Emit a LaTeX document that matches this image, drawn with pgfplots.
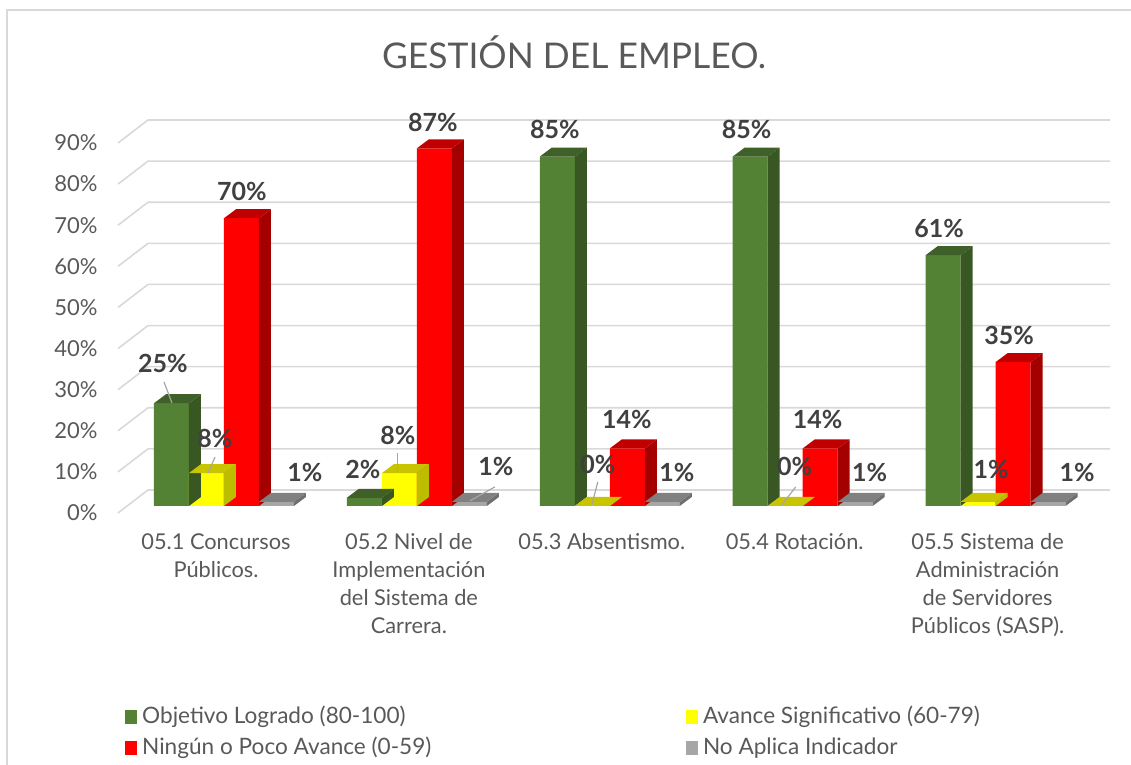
\documentclass[border=0pt]{standalone}
\usepackage{fontspec}
\setmainfont{Lato}
\usepackage{pgfplots}
\pgfplotsset{compat=1.18}
\definecolor{gF}{HTML}{548235}
\definecolor{gS}{HTML}{385723}
\definecolor{gT}{HTML}{3F6129}
\definecolor{yF}{HTML}{FFFF00}
\definecolor{yS}{HTML}{BDBD00}
\definecolor{yT}{HTML}{C8C400}
\definecolor{rF}{HTML}{FF0000}
\definecolor{rS}{HTML}{A50000}
\definecolor{rT}{HTML}{C00000}
\definecolor{aF}{HTML}{A6A6A6}
\definecolor{aS}{HTML}{6F6F6F}
\definecolor{aT}{HTML}{808080}
\definecolor{txt}{HTML}{595959}
\definecolor{lab}{HTML}{404040}
\definecolor{gridc}{HTML}{D9D9D9}
\definecolor{leadc}{HTML}{A6A6A6}

% x = category, v = value (%), dx dy = label offset (pt), la lb lc ld = leader line (pt)
\def\dgreen{x v dx dy la lb lc ld\\
0 25 -4.25 20 0.25 0.15 -3.75 10.65\\
1 2 -0.75 14 0 0 0 0\\
2 85 -1.25 13.5 0 0 0 0\\
3 85 -1.75 13.5 0 0 0 0\\
4 61 -2 13.5 0 0 0 0\\}
\def\dyellow{x v dx dy la lb lc ld\\
0 8 4.25 17.5 0.75 0 4.25 8\\
1 8 -0.75 19 -0.75 0.5 -0.75 10\\
2 0 2.75 21 -0.25 0.5 2.75 12\\
3 0 4.75 20 -1.75 0.5 5.25 9.5\\
4 1 6.5 16 0 0 0 0\\}
\def\dred{x v dx dy la lb lc ld\\
0 70 0.25 13.5 0 0 0 0\\
1 87 -0.75 13 0 0 0 0\\
2 14 -0.25 14.25 0 0 0 0\\
3 14 -1.25 14.25 0 0 0 0\\
4 35 -2 13.5 0 0 0 0\\}
\def\dgray{x v dx dy la lb lc ld\\
0 1 14.25 14.5 0 0 0 0\\
1 1 13.25 17.5 0.25 0.5 12.75 7.5\\
2 1 7.25 14.5 0 0 0 0\\
3 1 7.25 14.5 0 0 0 0\\
4 1 14.5 14.5 0 0 0 0\\}

\newcommand{\barseries}[5]{%
  \addplot[forget plot, ybar, bar width=17.5pt, bar shift=#2pt, fill=#3, draw=none] table[x=x,y=v,row sep=\\]{#1};
  \addplot[forget plot, only marks, mark=*, mark size=0pt, mark options={draw=none, fill=none}, scatter,
    visualization depends on={value \thisrow{v} \as \myval},
    visualization depends on={value \thisrow{la} \as \mla},
    visualization depends on={value \thisrow{lb} \as \mlb},
    visualization depends on={value \thisrow{lc} \as \mlc},
    visualization depends on={value \thisrow{ld} \as \mld},
    scatter/@pre marker code/.code={%
      \pgfmathsetmacro\myhh{\myval*185/90}%
      \path[fill=#4, draw=none] ({#2pt+8.75pt},0pt) -- ++(6pt,4.5pt) -- ++(0pt,-\myhh pt) -- ++(-6pt,-4.5pt) -- cycle;
      \path[fill=#5, draw=none] ({#2pt-8.75pt},0pt) -- ++(6pt,4.5pt) -- ++(17.5pt,0pt) -- ++(-6pt,-4.5pt) -- cycle;
      \ifdim\mld pt=0pt\relax\else
        \path[draw=leadc, line width=0.6pt] ({#2pt+\mla pt},\mlb pt) -- ({#2pt+\mlc pt},\mld pt);
      \fi
    },
    scatter/@post marker code/.code={}
  ] table[x=x,y=v,row sep=\\]{#1};
}
\newcommand{\labelseries}[2]{%
  \addplot[forget plot, draw=none, mark=none, point meta=y,
    visualization depends on={value \thisrow{dx} \as \mdx},
    visualization depends on={value \thisrow{dy} \as \mdy},
    nodes near coords={\pgfmathprintnumber[assume math mode=true]{\pgfplotspointmeta}\%},
    every node near coord/.append style={anchor=center, xshift=#2pt, xshift=\mdx pt, yshift=\mdy pt,
      font=\fontsize{12.5}{15}\selectfont\bfseries, text=lab, inner sep=0pt}
  ] table[x=x,y=v,row sep=\\]{#1};
}

\begin{document}
\begin{tikzpicture}
\useasboundingbox (0,0) rectangle (565.5pt,382.5pt);
\draw[gridc, line width=0.8pt] (3.5pt,-10pt) -- (3.5pt,377.5pt) -- (600pt,377.5pt);
\node[font=\fontsize{17.7}{20}\selectfont, text=txt] at (287pt,356.5pt) {GESTIÓN DEL EMPLEO.};
\begin{axis}[
  at={(74pt,129.5pt)}, anchor=south west,
  scale only axis, width=481pt, height=185pt,
  xmin=-0.3938, xmax=4.593, ymin=0, ymax=90,
  clip=false,
  axis line style={draw=none},
  major tick length=0pt,
  tick style={draw=none},
  /pgf/number format/assume math mode=true,
  ytick={0,10,...,90},
  yticklabel={\pgfmathprintnumber{\tick}\%},
  yticklabel style={anchor=east, inner sep=0pt, xshift=-25pt, yshift=-3.5pt,
    font=\fontsize{11}{13}\selectfont, text=txt},
  xtick={0,1,2,3,4},
  xticklabels={{05.1 Concursos\\Públicos.},{05.2 Nivel de\\Implementación\\del Sistema de\\Carrera.},{05.3 Absentismo.},{05.4 Rotación.},{05.5 Sistema de\\Administración\\de Servidores\\Públicos (SASP).}},
  xticklabel style={align=center, anchor=north, inner sep=0pt, yshift=-13.5pt, xshift=-4pt,
    font=\fontsize{10.9}{14}\selectfont, text=txt},
  legend columns=2,
  legend cell align=left,
  legend style={at={(-0.0239,-0.5405)}, anchor=north west, draw=none, fill=none, inner sep=0pt,
    font=\fontsize{11.3}{13}\selectfont, text=txt, row sep=4.5pt,
    nodes={inner sep=0pt, text height=8.5pt, text depth=2.5pt},
    /tikz/every odd column/.append style={column sep=2.5pt},
    /tikz/every even column/.append style={column sep=72pt}},
]
\pgfplotsinvokeforeach{0,10,20,30,40,50,60,70,80,90}{%
  \draw[gridc, line width=0.8pt] ([xshift=-15pt,yshift=-3.5pt]axis cs:-0.3938,#1) -- ([yshift=8pt]axis cs:-0.3938,#1) -- ([yshift=8pt]axis cs:4.593,#1);
}
\expandafter\barseries\expandafter{\dgreen}{-26.25}{gF}{gS}{gT}
\expandafter\barseries\expandafter{\dyellow}{-8.75}{yF}{yS}{yT}
\expandafter\barseries\expandafter{\dred}{8.75}{rF}{rS}{rT}
\expandafter\barseries\expandafter{\dgray}{26.25}{aF}{aS}{aT}
\expandafter\labelseries\expandafter{\dgreen}{-26.25}
\expandafter\labelseries\expandafter{\dyellow}{-8.75}
\expandafter\labelseries\expandafter{\dred}{8.75}
\expandafter\labelseries\expandafter{\dgray}{26.25}
\addlegendimage{legend image code/.code={\fill[gF] (0pt,-3.25pt) rectangle (5.5pt,3.25pt);}}
\addlegendentry{\makebox[200pt][l]{Objetivo Logrado (80-100)}}
\addlegendimage{legend image code/.code={\fill[yF] (0pt,-3.25pt) rectangle (5.5pt,3.25pt);}}
\addlegendentry{Avance Significativo (60-79)}
\addlegendimage{legend image code/.code={\fill[rF] (0pt,-3.25pt) rectangle (5.5pt,3.25pt);}}
\addlegendentry{\makebox[200pt][l]{Ningún o Poco Avance (0-59)}}
\addlegendimage{legend image code/.code={\fill[aF] (0pt,-3.25pt) rectangle (5.5pt,3.25pt);}}
\addlegendentry{No Aplica Indicador}
\end{axis}
\end{tikzpicture}
\end{document}
